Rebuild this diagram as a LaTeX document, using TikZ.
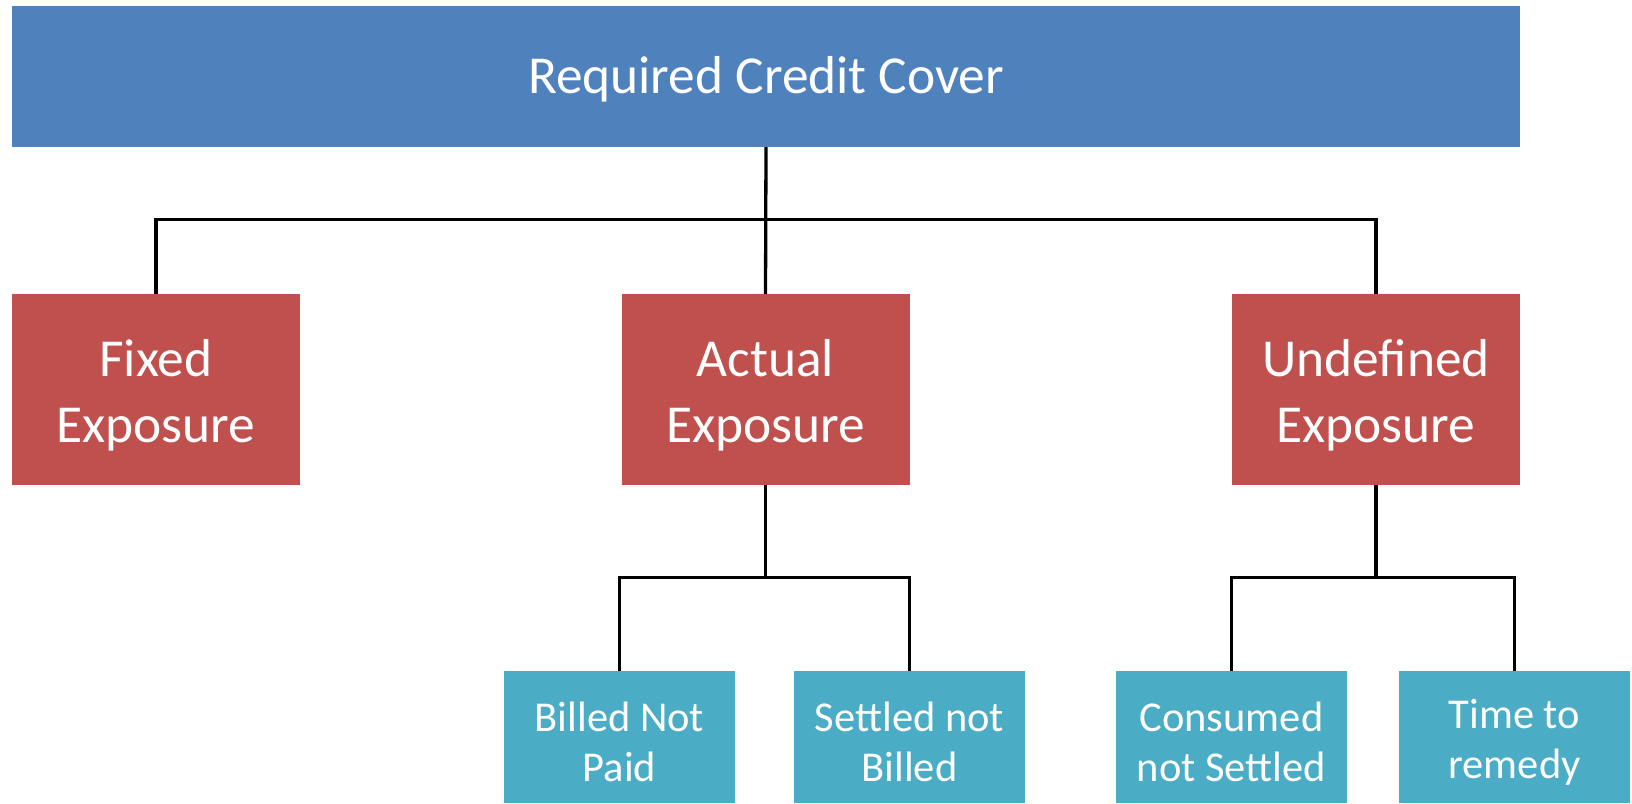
\documentclass[tikz,border=0pt]{standalone}
\usepackage{fontspec}
\setmainfont{Carlito}
\definecolor{coverblue}{HTML}{4F81BD}
\definecolor{exposred}{HTML}{C0504D}
\definecolor{partteal}{HTML}{4BACC6}
\tikzset{
    topbox/.style={fill=coverblue,inner sep=0pt,
        minimum width=1508pt,minimum height=141pt},
    midbox/.style={fill=exposred,inner sep=0pt,
        minimum width=288pt,minimum height=191pt},
    lowbox/.style={fill=partteal,inner sep=0pt,
        minimum width=231pt,minimum height=132pt},
    % box captions sit a little below the box centre
    toptext/.style={text=white,inner sep=0pt,yshift=-3pt,
        font=\fontsize{53.4}{64}\selectfont},
    midtext/.style={text=white,inner sep=0pt,align=center,yshift=-6pt,
        font=\fontsize{53.4}{65.5}\selectfont},
    lowtext/.style={text=white,inner sep=0pt,align=center,yshift=-5pt,
        font=\fontsize{42.5}{50}\selectfont},
    tree/.style={line width=3.3pt,black}
}
\begin{document}
\begin{tikzpicture}[x=1pt,y=-1pt]
    \useasboundingbox (0,0) rectangle (1632,803);
    % root
    \node[topbox,label={[toptext]center:Required Credit Cover}] (cover) at (766,76.5) {};
    % exposure kinds
    \node[midbox,label={[midtext]center:Fixed\\Exposure}] (fixed) at (156,389.5) {};
    \node[midbox,label={[midtext]center:Actual\\Exposure}] (actual) at (765.5,389.5) {};
    \node[midbox,label={[midtext]center:Undefined\\Exposure}] (undef) at (1376,389.5) {};
    % parts
    \node[lowbox,label={[lowtext]center:Billed Not\\Paid}] (billed) at (619.5,737) {};
    \node[lowbox,label={[lowtext]center:Settled not\\Billed}] (settled) at (909.5,737) {};
    \node[lowbox,label={[lowtext]center:Consumed\\not Settled}] (consumed) at (1231.5,737) {};
    \node[lowbox,label={[lowtext]center:Time to\\remedy}] (remedy) at (1514.5,737) {};

    \draw[tree] (cover.south) -- (actual.north);
    \draw[tree] (fixed.north) -- ++(0,-74) -| (undef.north);
    \draw[tree] (actual.south) -- ++(0,93);
    \draw[tree] (billed.north) -- ++(0,-93) -| (settled.north);
    \draw[tree] (undef.south) -- ++(0,93);
    \draw[tree] (consumed.north) -- ++(0,-93) -| (remedy.north);
\end{tikzpicture}
\end{document}
